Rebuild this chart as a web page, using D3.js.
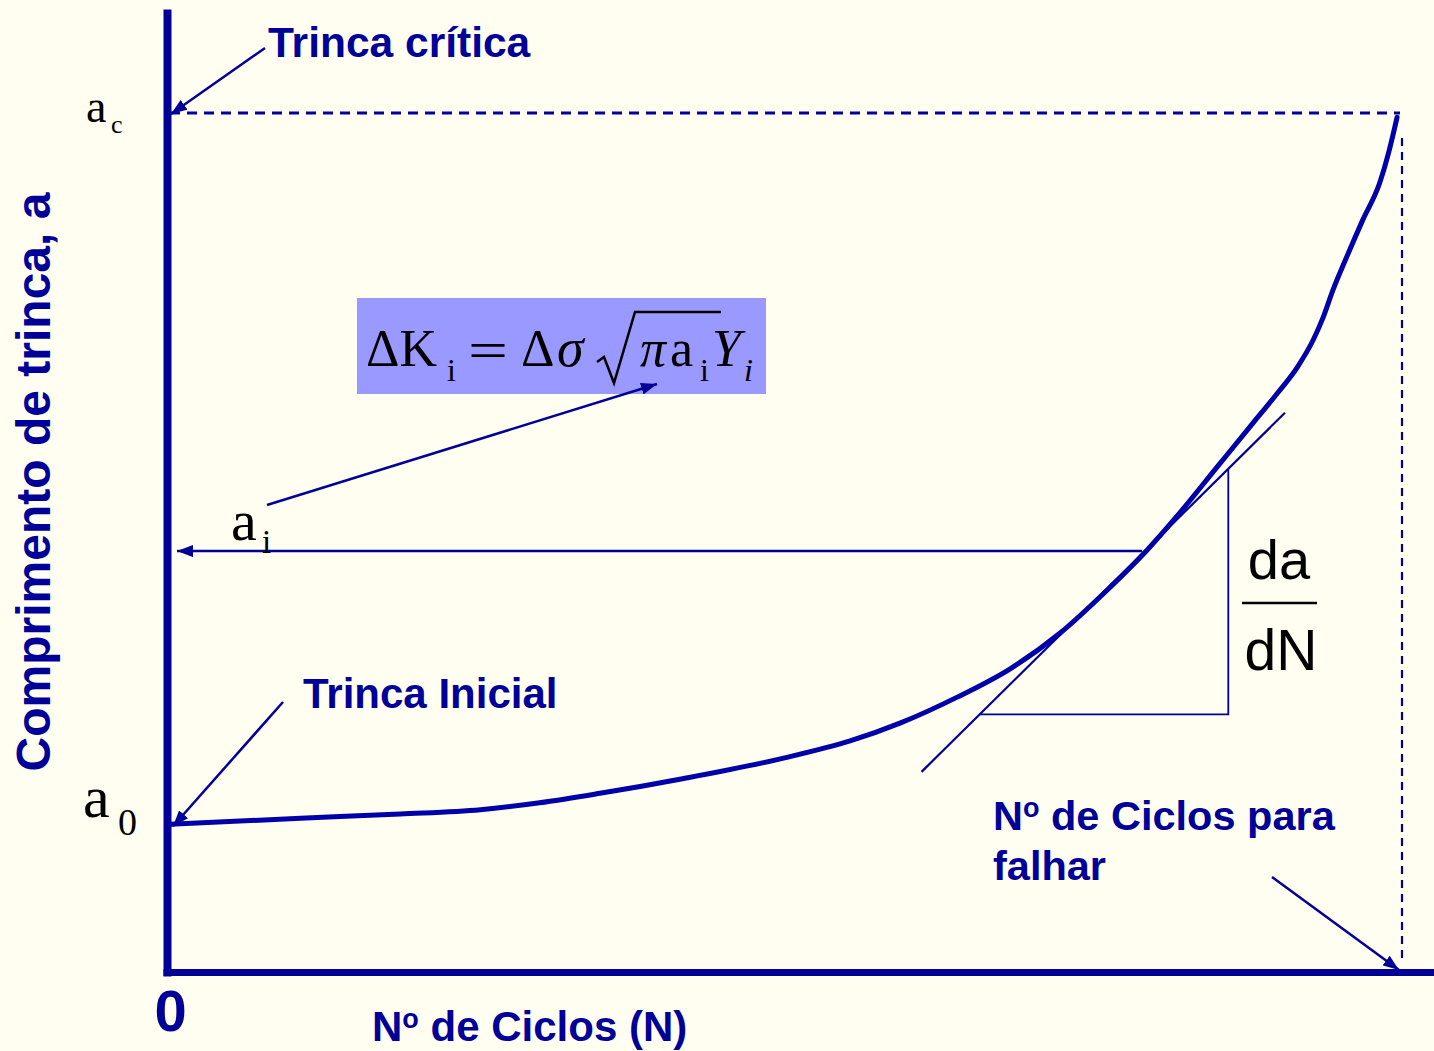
<!DOCTYPE html>
<html>
<head>
<meta charset="utf-8">
<script src="https://cdn.jsdelivr.net/npm/d3@7"></script>
<style>
  html, body { margin: 0; padding: 0; background: #FFFEF0; }
  svg { display: block; }
  .sans { font-family: "Liberation Sans", Arial, sans-serif; }
  .serif { font-family: "Liberation Serif", "Times New Roman", serif; }
</style>
</head>
<body>
<svg id="chart" width="1434" height="1051"></svg>
<script>
// ---------- data ----------
const cycles   = [0, 10.6, 18.7, 25.2, 30.0, 34.9, 41.6, 49.8, 55.2, 59.3, 63.9, 68.2, 72.2, 76.1, 79.3, 81.7, 85.0, 87.9, 89.9, 91.5, 92.8, 93.6, 94.4, 95.5, 96.8, 98.2, 98.9, 99.6];
const crackLen = [17.2, 17.9, 18.4, 18.9, 19.7, 20.8, 22.5, 24.9, 26.9, 29.0, 32.0, 35.3, 39.4, 44.5, 49.1, 53.0, 58.8, 63.9, 67.4, 70.4, 73.6, 76.2, 79.4, 83.2, 87.5, 91.9, 95.3, 99.5];
const levelNames  = ["a0", "ai", "ac"];
const levelValues = [17.2, 49.0, 100];
const failureCycles = 100;
const tangentN = [61.0, 90.5];
const tangentA = [23.3, 65.1];
const triangleBaseA = 30.0;
const triangleRiseN = 85.9;
const aiLineEndN = 78.9;
const xTickValues = [0];
const xTickLabels = ["0"];

// ---------- setup ----------
const NAVY = "#000099";
const CURVE = "#0000AA";
const svg = d3.select("#chart");
svg.append("rect").attr("width", 1434).attr("height", 1051).attr("fill", "#FFFEF0");

const x = d3.scaleLinear().domain([0, 100]).range([170, 1402]);
const y = d3.scaleLinear().domain([0, 100]).range([972, 113]);
const lvl = n => levelValues[levelNames.indexOf(n)];

const defs = svg.append("defs");
defs.append("marker").attr("id", "arr")
  .attr("markerUnits", "userSpaceOnUse")
  .attr("viewBox", "0 0 16 12").attr("refX", 16).attr("refY", 6)
  .attr("markerWidth", 16).attr("markerHeight", 12).attr("orient", "auto")
  .append("path").attr("d", "M0,0 L16,6 L0,12 Z").attr("fill", NAVY);

// ---------- axes ----------
const xa = d3.scaleLinear().domain([x.invert(163), x.invert(1434)]).range([163, 1434]);
const ya = d3.scaleLinear().domain([y.invert(976), y.invert(9)]).range([976, 9]);

const gx = svg.append("g").attr("transform", "translate(0,972)")
  .call(d3.axisBottom(xa).tickValues(xTickValues)
    .tickFormat((d, i) => xTickLabels[i]).tickSize(0).tickSizeOuter(0).tickPadding(18));
gx.select(".domain").attr("stroke", NAVY).attr("stroke-width", 7);
gx.selectAll("text").attr("class", "sans").attr("fill", NAVY)
  .attr("font-size", 58).attr("font-weight", "bold").attr("font-family", null);

const gy = svg.append("g").attr("transform", "translate(167,0)")
  .call(d3.axisLeft(ya).tickValues([]).tickSizeOuter(0));
gy.select(".domain").attr("stroke", NAVY).attr("stroke-width", 8);

// ---------- dashed guides ----------
svg.append("line")
  .attr("x1", x(0)).attr("x2", x(failureCycles) - 2)
  .attr("y1", y(lvl("ac"))).attr("y2", y(lvl("ac")))
  .attr("stroke", NAVY).attr("stroke-width", 3).attr("stroke-dasharray", "10,7");
svg.append("line")
  .attr("x1", x(failureCycles)).attr("x2", x(failureCycles))
  .attr("y1", y(lvl("ac")) + 25).attr("y2", y(0) - 12)
  .attr("stroke", NAVY).attr("stroke-width", 2.2).attr("stroke-dasharray", "8,6");

// ---------- a_i horizontal arrow ----------
svg.append("line")
  .attr("x1", x(aiLineEndN)).attr("x2", x(0) + 7)
  .attr("y1", y(lvl("ai"))).attr("y2", y(lvl("ai")))
  .attr("stroke", NAVY).attr("stroke-width", 2.5).attr("marker-end", "url(#arr)");

// ---------- tangent & triangle ----------
const slope = (tangentA[1] - tangentA[0]) / (tangentN[1] - tangentN[0]);
const nAt = a => tangentN[0] + (a - tangentA[0]) / slope;
const aAt = n => tangentA[0] + (n - tangentN[0]) * slope;
svg.append("line")
  .attr("x1", x(tangentN[0])).attr("y1", y(tangentA[0]))
  .attr("x2", x(tangentN[1])).attr("y2", y(tangentA[1]))
  .attr("stroke", NAVY).attr("stroke-width", 2.2);
svg.append("path")
  .attr("d", d3.line()([[x(nAt(triangleBaseA)), y(triangleBaseA)],
                        [x(triangleRiseN), y(triangleBaseA)],
                        [x(triangleRiseN), y(aAt(triangleRiseN))]]))
  .attr("fill", "none").attr("stroke", NAVY).attr("stroke-width", 1.8);

// ---------- growth curve ----------
const pts = cycles.map((n, i) => [x(n), y(crackLen[i])]);
svg.append("path")
  .attr("d", d3.line().curve(d3.curveMonotoneX)(pts))
  .attr("fill", "none").attr("stroke", CURVE).attr("stroke-width", 5)
  .attr("stroke-linecap", "round").attr("stroke-linejoin", "round");

// ---------- formula box ----------
svg.append("rect").attr("x", 357).attr("y", 298).attr("width", 409).attr("height", 96)
  .attr("fill", "#9999FF");
const f = svg.append("g").attr("class", "serif").attr("fill", "#000");
f.append("text").attr("x", 366).attr("y", 366).attr("font-size", 52).text("ΔK");
f.append("text").attr("x", 447).attr("y", 381).attr("font-size", 32).text("i");
f.append("text").attr("x", 468).attr("y", 368).attr("font-size", 52)
  .attr("textLength", 40).attr("lengthAdjust", "spacingAndGlyphs").text("=");
f.append("text").attr("x", 521).attr("y", 366).attr("font-size", 52).text("Δ");
f.append("text").attr("x", 557).attr("y", 366).attr("font-size", 54).attr("font-style", "italic").text("σ");
f.append("path").attr("d", "M597,362 L604,357 L614,383 L635,312 L721,312")
  .attr("fill", "none").attr("stroke", "#000").attr("stroke-width", 2.5);
f.append("text").attr("x", 640).attr("y", 366).attr("font-size", 52).attr("font-style", "italic").text("π");
f.append("text").attr("x", 670).attr("y", 366).attr("font-size", 52).text("a");
f.append("text").attr("x", 700).attr("y", 381).attr("font-size", 32).text("i");
f.append("text").attr("x", 712).attr("y", 366).attr("font-size", 52).attr("font-style", "italic").text("Y");
f.append("text").attr("x", 744).attr("y", 381).attr("font-size", 32).attr("font-style", "italic").text("i");

// ---------- level labels ----------
const lab = svg.append("g").attr("class", "serif").attr("fill", "#000");
lab.append("text").attr("x", 86).attr("y", y(lvl("ac")) + 9).attr("font-size", 46).text("a");
lab.append("text").attr("x", 111).attr("y", y(lvl("ac")) + 20).attr("font-size", 26).text("c");
lab.append("text").attr("x", 231).attr("y", y(lvl("ai")) - 11).attr("font-size", 58).text("a");
lab.append("text").attr("x", 262).attr("y", y(lvl("ai")) + 2).attr("font-size", 33).text("i");
lab.append("text").attr("x", 83).attr("y", y(lvl("a0")) - 7).attr("font-size", 60).text("a");
lab.append("text").attr("x", 118).attr("y", y(lvl("a0")) + 11).attr("font-size", 38).text("0");

// ---------- annotations ----------
const ann = svg.append("g").attr("class", "sans").attr("fill", NAVY).attr("font-weight", "bold");
ann.append("text").attr("x", 268).attr("y", 57).attr("font-size", 42.5).text("Trinca crítica");
ann.append("text").attr("x", 303).attr("y", 708).attr("font-size", 42).text("Trinca Inicial");
const t1 = ann.append("text").attr("x", 993).attr("y", 830).attr("font-size", 41.5);
t1.append("tspan").text("N");
t1.append("tspan").attr("font-size", 27).attr("dy", -13).text("o");
t1.append("tspan").attr("dy", 13).text(" de Ciclos para");
ann.append("text").attr("x", 993).attr("y", 880).attr("font-size", 41.5).text("falhar");
const t2 = ann.append("text").attr("x", 372).attr("y", 1041).attr("font-size", 42);
t2.append("tspan").text("N");
t2.append("tspan").attr("font-size", 27).attr("dy", -13).text("o");
t2.append("tspan").attr("dy", 13).text(" de Ciclos (N)");
ann.append("text").attr("transform", "translate(50,482) rotate(-90)")
  .attr("text-anchor", "middle").attr("font-size", 48).text("Comprimento de trinca, a");

// da/dN
const frac = svg.append("g").attr("class", "sans").attr("fill", "#000");
frac.append("text").attr("x", 1279).attr("y", 579).attr("text-anchor", "middle").attr("font-size", 56).text("da");
frac.append("line").attr("x1", 1242).attr("x2", 1317).attr("y1", 603).attr("y2", 603)
  .attr("stroke", "#000").attr("stroke-width", 2.5);
frac.append("text").attr("x", 1281).attr("y", 670).attr("text-anchor", "middle").attr("font-size", 57).text("dN");

// arrows
const arrows = [
  [[265, 48], [x(0) + 1, y(lvl("ac")) + 1]],
  [[283, 702], [x(0) + 3, y(lvl("a0")) + 2]],
  [[267, 505], [657, 384]],
  [[1272, 877], [x(failureCycles) - 3, y(0) - 2]]
];
arrows.forEach(([a, b]) => {
  svg.append("line").attr("x1", a[0]).attr("y1", a[1]).attr("x2", b[0]).attr("y2", b[1])
    .attr("stroke", NAVY).attr("stroke-width", 2.5).attr("marker-end", "url(#arr)");
});
</script>
</body>
</html>
